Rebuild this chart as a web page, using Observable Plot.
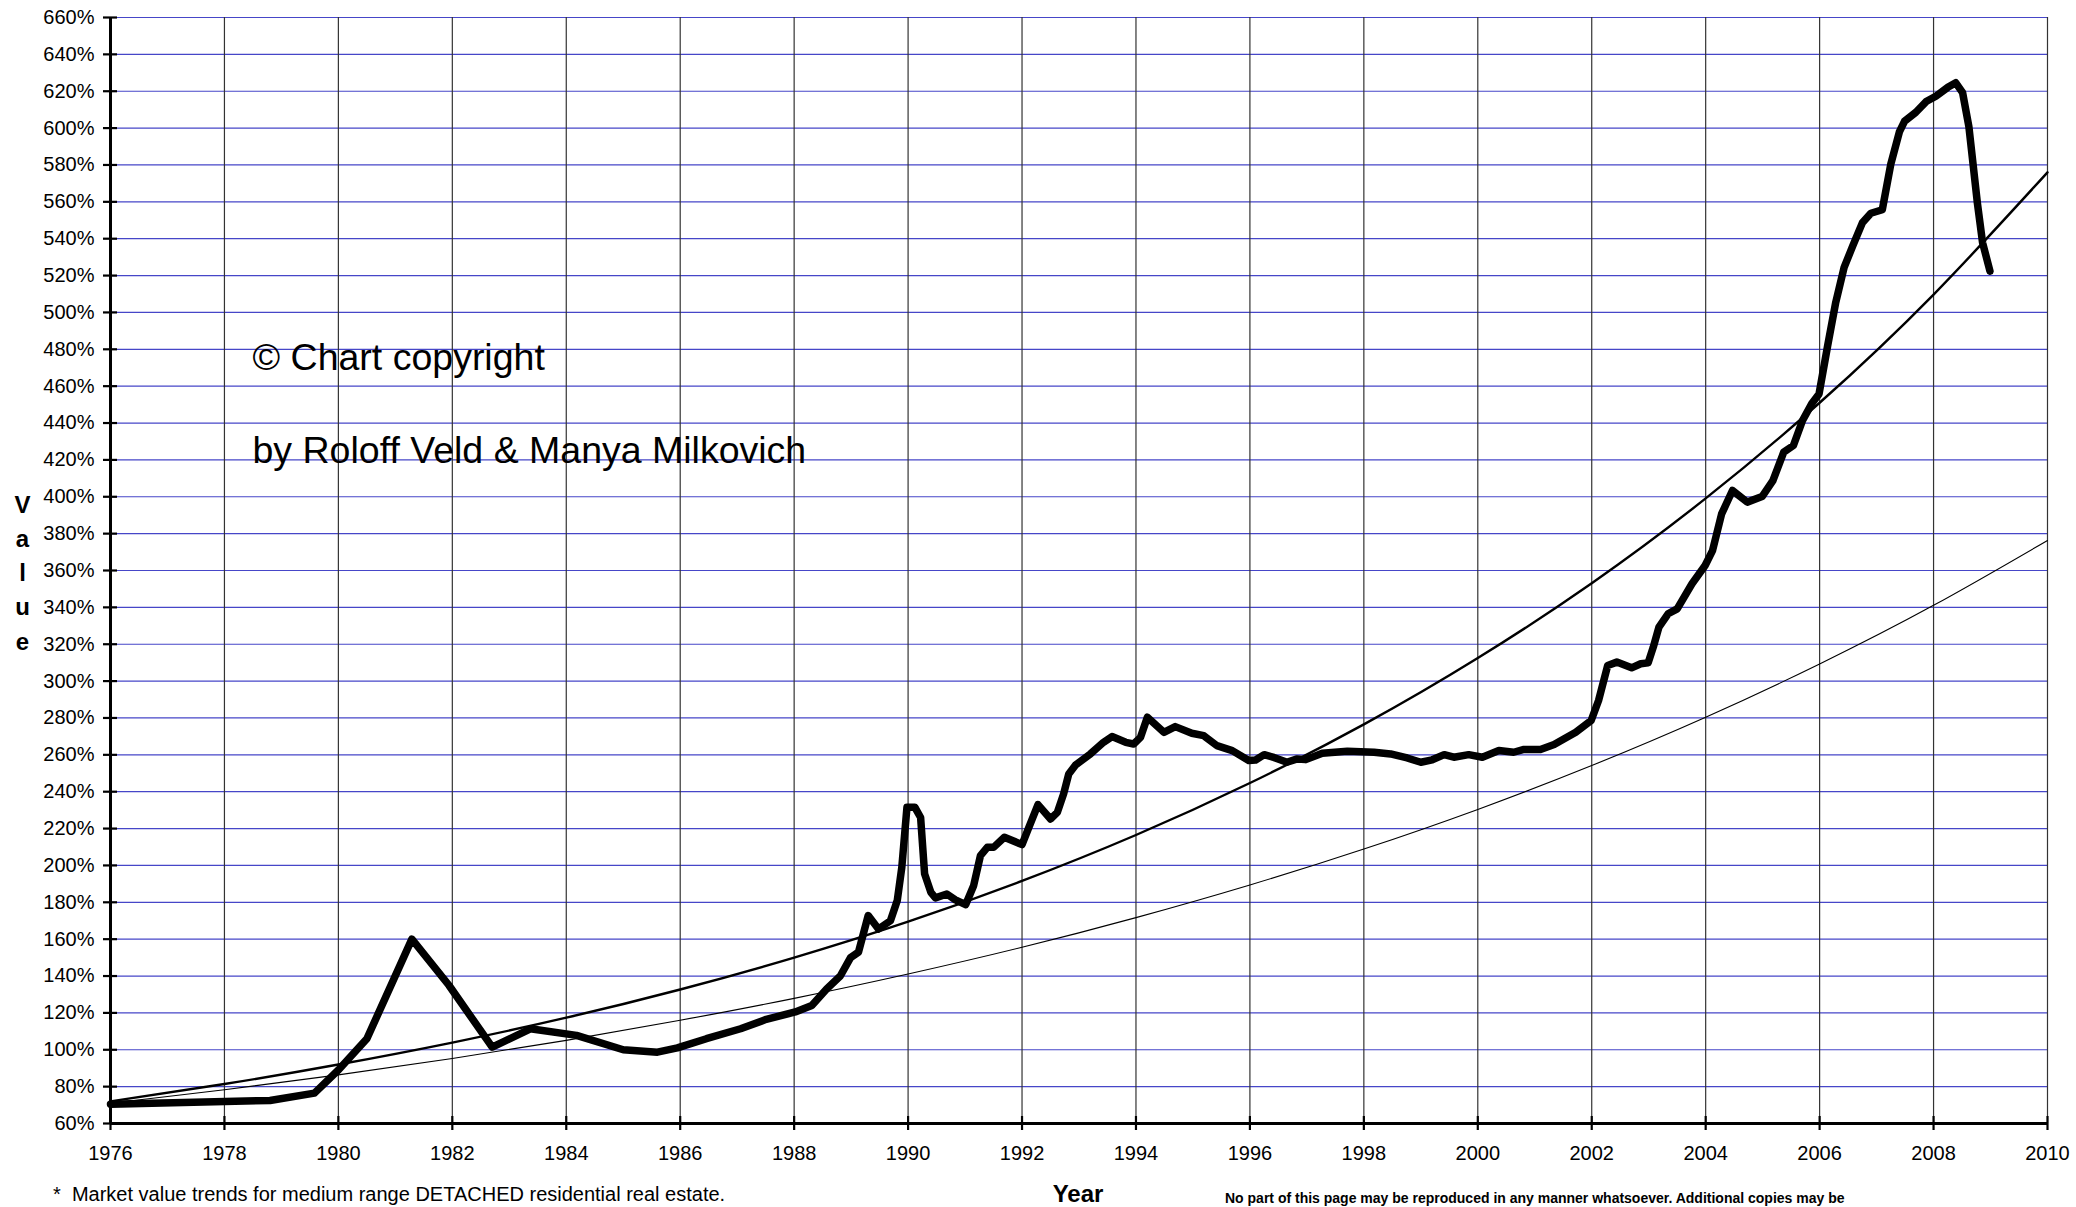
<!DOCTYPE html>
<html>
<head>
<meta charset="utf-8">
<script src="https://cdn.jsdelivr.net/npm/d3@7"></script>
<script src="https://cdn.jsdelivr.net/npm/@observablehq/plot@0.6"></script>
<style>
  html, body { margin: 0; padding: 0; background: #fff; }
  #wrap { position: relative; width: 2076px; height: 1207px; overflow: hidden; background: #fff;
          font-family: "Liberation Sans", Arial, sans-serif; color: #000; }
  #wrap svg { position: absolute; left: 0; top: 0; }
  .note { position: absolute; line-height: 1; white-space: nowrap; }
</style>
</head>
<body>
<div id="wrap"></div>
<script>
// Main series: year (decimal) and value in %
const mainYears = [1976.0,1978.8,1979.58,1980.0,1980.5,1981.29,1981.94,1982.7,1983.37,1984.18,1985.0,1985.6,1985.95,1986.46,1987.06,1987.51,1988.02,1988.31,1988.57,1988.81,1988.99,1989.13,1989.3,1989.48,1989.69,1989.81,1989.89,1989.98,1990.12,1990.22,1990.29,1990.4,1990.48,1990.68,1990.83,1991.01,1991.15,1991.27,1991.39,1991.5,1991.69,1992.0,1992.12,1992.28,1992.5,1992.62,1992.73,1992.82,1992.94,1993.2,1993.43,1993.58,1993.82,1993.96,1994.08,1994.2,1994.49,1994.69,1994.98,1995.19,1995.42,1995.69,1995.98,1996.1,1996.25,1996.42,1996.65,1996.83,1996.98,1997.27,1997.71,1998.18,1998.47,1998.76,1999.0,1999.2,1999.41,1999.58,1999.84,2000.08,2000.37,2000.63,2000.81,2001.1,2001.34,2001.51,2001.72,2001.99,2002.12,2002.28,2002.44,2002.7,2002.86,2002.99,2003.08,2003.18,2003.34,2003.5,2003.76,2003.99,2004.12,2004.28,2004.47,2004.73,2004.99,2005.18,2005.37,2005.54,2005.7,2005.86,2005.99,2006.14,2006.28,2006.43,2006.58,2006.75,2006.9,2007.1,2007.25,2007.4,2007.49,2007.69,2007.87,2008.04,2008.25,2008.39,2008.51,2008.62,2008.77,2008.86,2008.99];
const mainValues = [70.5,72.5,76.5,89,106,160,135,101.4,111.4,107.8,100,98.7,101,106,111.4,116.5,120.5,124,133,140,150,153,172.8,165.5,170,181,199,231.5,231.5,226,195.4,185.4,182.4,184.5,181.3,178.7,189,205.3,209.8,209.8,215.3,211.3,220.7,233,225.2,228.8,238.8,249.6,254.5,260.5,266.8,269.9,266.8,265.9,269.5,280.4,272.2,275.3,271.7,270.4,265,262.3,256.9,257.2,260.1,258.6,256,257.8,257.4,260.9,262,261.4,260.5,258.3,256,257.3,260.1,258.7,260.1,258.7,262.3,261.4,262.9,262.9,265.6,268.6,272.3,278.6,289.5,308.5,310.3,307.2,309.4,309.9,318.4,329.3,336.5,339.2,352.8,362.7,370.8,390.7,403.4,397.1,400.1,408.8,424.2,427.8,441.4,450.4,455.8,481.8,505,524.4,536,548.6,553.8,555.7,580.5,597.9,603.7,608.6,614.4,617.3,622.1,624.6,619.2,600.8,559.2,537.9,522.4];

// Trend curves read every two years
const trendYears = [1976,1978,1980,1982,1984,1986,1988,1990,1992,1994,1996,1998,2000,2002,2004,2006,2008,2010];
const trendHigh  = [72.0,81.4,92.0,103.9,117.4,132.7,150.0,169.5,191.6,216.5,244.7,276.5,312.5,353.1,399.1,451.0,509.7,576.0];
const trendLow   = [71.0,78.3,86.4,95.3,105.1,116.0,127.9,141.1,155.6,171.7,189.4,208.9,230.4,254.2,280.4,309.3,341.1,376.3];

const xTicks = [1976,1978,1980,1982,1984,1986,1988,1990,1992,1994,1996,1998,2000,2002,2004,2006,2008,2010];
const yTicks = [60,80,100,120,140,160,180,200,220,240,260,280,300,320,340,360,380,400,420,440,460,480,500,520,540,560,580,600,620,640,660];

const yLabel = "Value";
const xLabel = "Year";
const copyright1 = "© Chart copyright";
const copyright2 = "by Roloff Veld & Manya Milkovich";
const footnote = "*\u00a0\u00a0Market value trends for medium range DETACHED residential real estate.";
const legalNote = "No part of this page may be reproduced in any manner whatsoever. Additional copies may be";

const mainData = mainYears.map((y, i) => ({year: y, value: mainValues[i]}));
const trendData = trendYears.map((y, i) => ({year: y, high: trendHigh[i], low: trendLow[i]}));

const W = 2076, H = 1170;
const mL = 110, mR = 29, mT = 17, mB = 47;
const frameW = W - mL - mR, frameH = H - mT - mB;

const chart = Plot.plot({
  width: W, height: H,
  marginLeft: mL, marginRight: mR, marginTop: mT, marginBottom: mB,
  style: {fontFamily: '"Liberation Sans", Arial, sans-serif', fontSize: "20px", background: "white", color: "black"},
  x: {domain: [1976, 2010], label: null},
  y: {domain: [60, 660], label: null},
  marks: [
    Plot.ruleY(yTicks, {y: d => d, stroke: "#4646c8", strokeWidth: 1.2}),
    Plot.ruleX(xTicks, {x: d => d, stroke: "#333", strokeWidth: 1.2}),
    Plot.line(trendData, {x: "year", y: "low", curve: "natural", stroke: "black", strokeWidth: 1.1}),
    Plot.line(trendData, {x: "year", y: "high", curve: "natural", stroke: "black", strokeWidth: 2.4}),
    Plot.line(mainData, {x: "year", y: "value", stroke: "black", strokeWidth: 7.5, strokeLinejoin: "round", strokeLinecap: "round"}),
    Plot.ruleX([1976], {stroke: "black", strokeWidth: 3}),
    Plot.ruleY([60], {stroke: "black", strokeWidth: 3}),
    Plot.tickY(yTicks, {y: d => d, insetRight: frameW - 14, dx: -7, stroke: "black", strokeWidth: 2.2}),
    Plot.tickX(xTicks, {x: d => d, insetTop: frameH - 14, dy: 7, stroke: "black", strokeWidth: 2.2}),
    Plot.axisY({ticks: yTicks, tickFormat: d => d + "%", tickSize: 0, tickPadding: 16, fontSize: 20, label: null}),
    Plot.axisX({ticks: xTicks, tickFormat: d => String(d), tickSize: 0, tickPadding: 22, fontSize: 20, label: null}),
    Plot.text([yLabel.split("").join("\n")], {text: d => d, frameAnchor: "left", dx: -88, fontWeight: "bold", fontSize: 24, lineHeight: 1.42, textAnchor: "middle"}),
    Plot.text([copyright1], {text: d => d, frameAnchor: "top-left", dx: 142, dy: 340, fontSize: 37.5, textAnchor: "start", lineAnchor: "middle"}),
    Plot.text([copyright2], {text: d => d, frameAnchor: "top-left", dx: 142, dy: 433, fontSize: 37.5, textAnchor: "start", lineAnchor: "middle"})
  ]
});

const wrap = document.getElementById("wrap");
wrap.appendChild(chart);

function note(text, left, top, size, weight, center) {
  const d = document.createElement("div");
  d.className = "note";
  d.textContent = text;
  d.style.left = left + "px";
  d.style.top = top + "px";
  d.style.fontSize = size + "px";
  d.style.fontWeight = weight;
  if (center) d.style.transform = "translateX(-50%)";
  wrap.appendChild(d);
}
note(xLabel, 1078, 1182, 24, "bold", true);
note(footnote, 53, 1184, 20, "normal", false);
note(legalNote, 1225, 1191, 14, "bold", false);
</script>
</body>
</html>
